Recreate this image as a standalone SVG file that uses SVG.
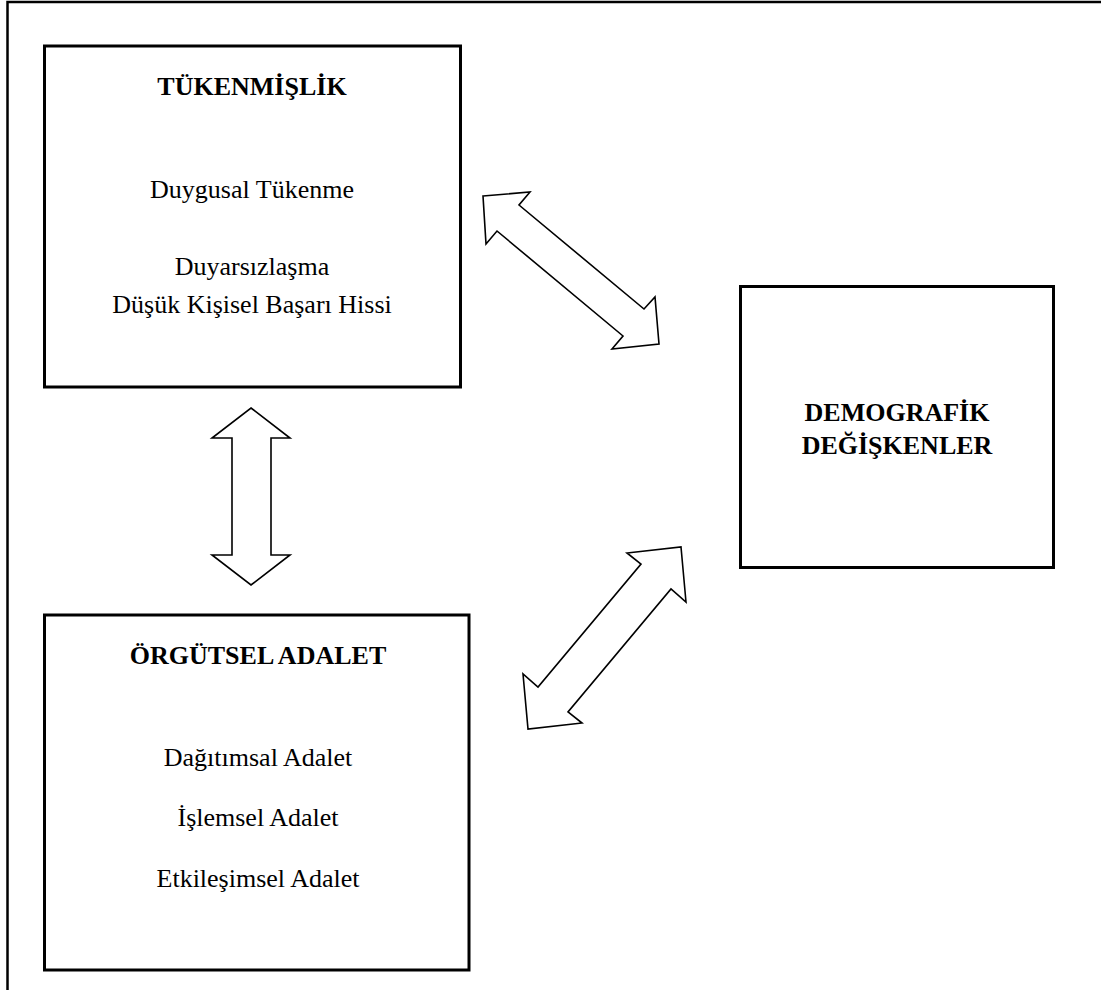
<svg xmlns="http://www.w3.org/2000/svg" width="1101" height="990" viewBox="0 0 1101 990">
<style>
.box{fill:#fff;stroke:#000;stroke-width:3}
.arrow{fill:#fff;stroke:#000;stroke-width:1.6;stroke-linejoin:miter}
.t{font-family:"Liberation Serif","Times New Roman",serif;font-size:26px;text-anchor:middle;fill:#000}
.b{font-weight:bold}
</style>
<rect width="1101" height="990" fill="#fff"/>
<g id="frame">
<path d="M7.5 990 V2 H1101" fill="none" stroke="#000" stroke-width="2.5"/>
</g>
<g id="tukenmislik">
<rect class="box" x="44.5" y="46" width="416" height="341"/>
<text class="t b" x="252" y="95">TÜKENMİŞLİK</text>
<text class="t" x="252" y="198">Duygusal Tükenme</text>
<text class="t" x="252" y="275">Duyarsızlaşma</text>
<text class="t" x="252" y="313">Düşük Kişisel Başarı Hissi</text>
</g>
<g id="orgutsel">
<rect class="box" x="44.5" y="615" width="424.5" height="355"/>
<text class="t b" x="258" y="664">ÖRGÜTSEL ADALET</text>
<text class="t" x="258" y="766">Dağıtımsal Adalet</text>
<text class="t" x="258" y="826">İşlemsel Adalet</text>
<text class="t" x="258" y="887">Etkileşimsel Adalet</text>
</g>
<g id="demografik">
<rect class="box" x="740.5" y="286.5" width="313" height="281"/>
<text class="t b" x="897" y="421">DEMOGRAFİK</text>
<text class="t b" x="897" y="454">DEĞİŞKENLER</text>
</g>
<g id="connectors">
<polygon class="arrow" points="251,408 290,438 271,438 271,555 290,555 251,585 212,555 232,555 232,438 212,438"/>
<polygon class="arrow" points="483,196 530,192 519,205 644,309 655,297 659,344 612,349 623,336 497,231 486,244"/>
<polygon class="arrow" points="681,547 686,602 671,589 568,712 582,723 528,729 523,674 538,687 641,564 627,553"/>
</g>
</svg>
